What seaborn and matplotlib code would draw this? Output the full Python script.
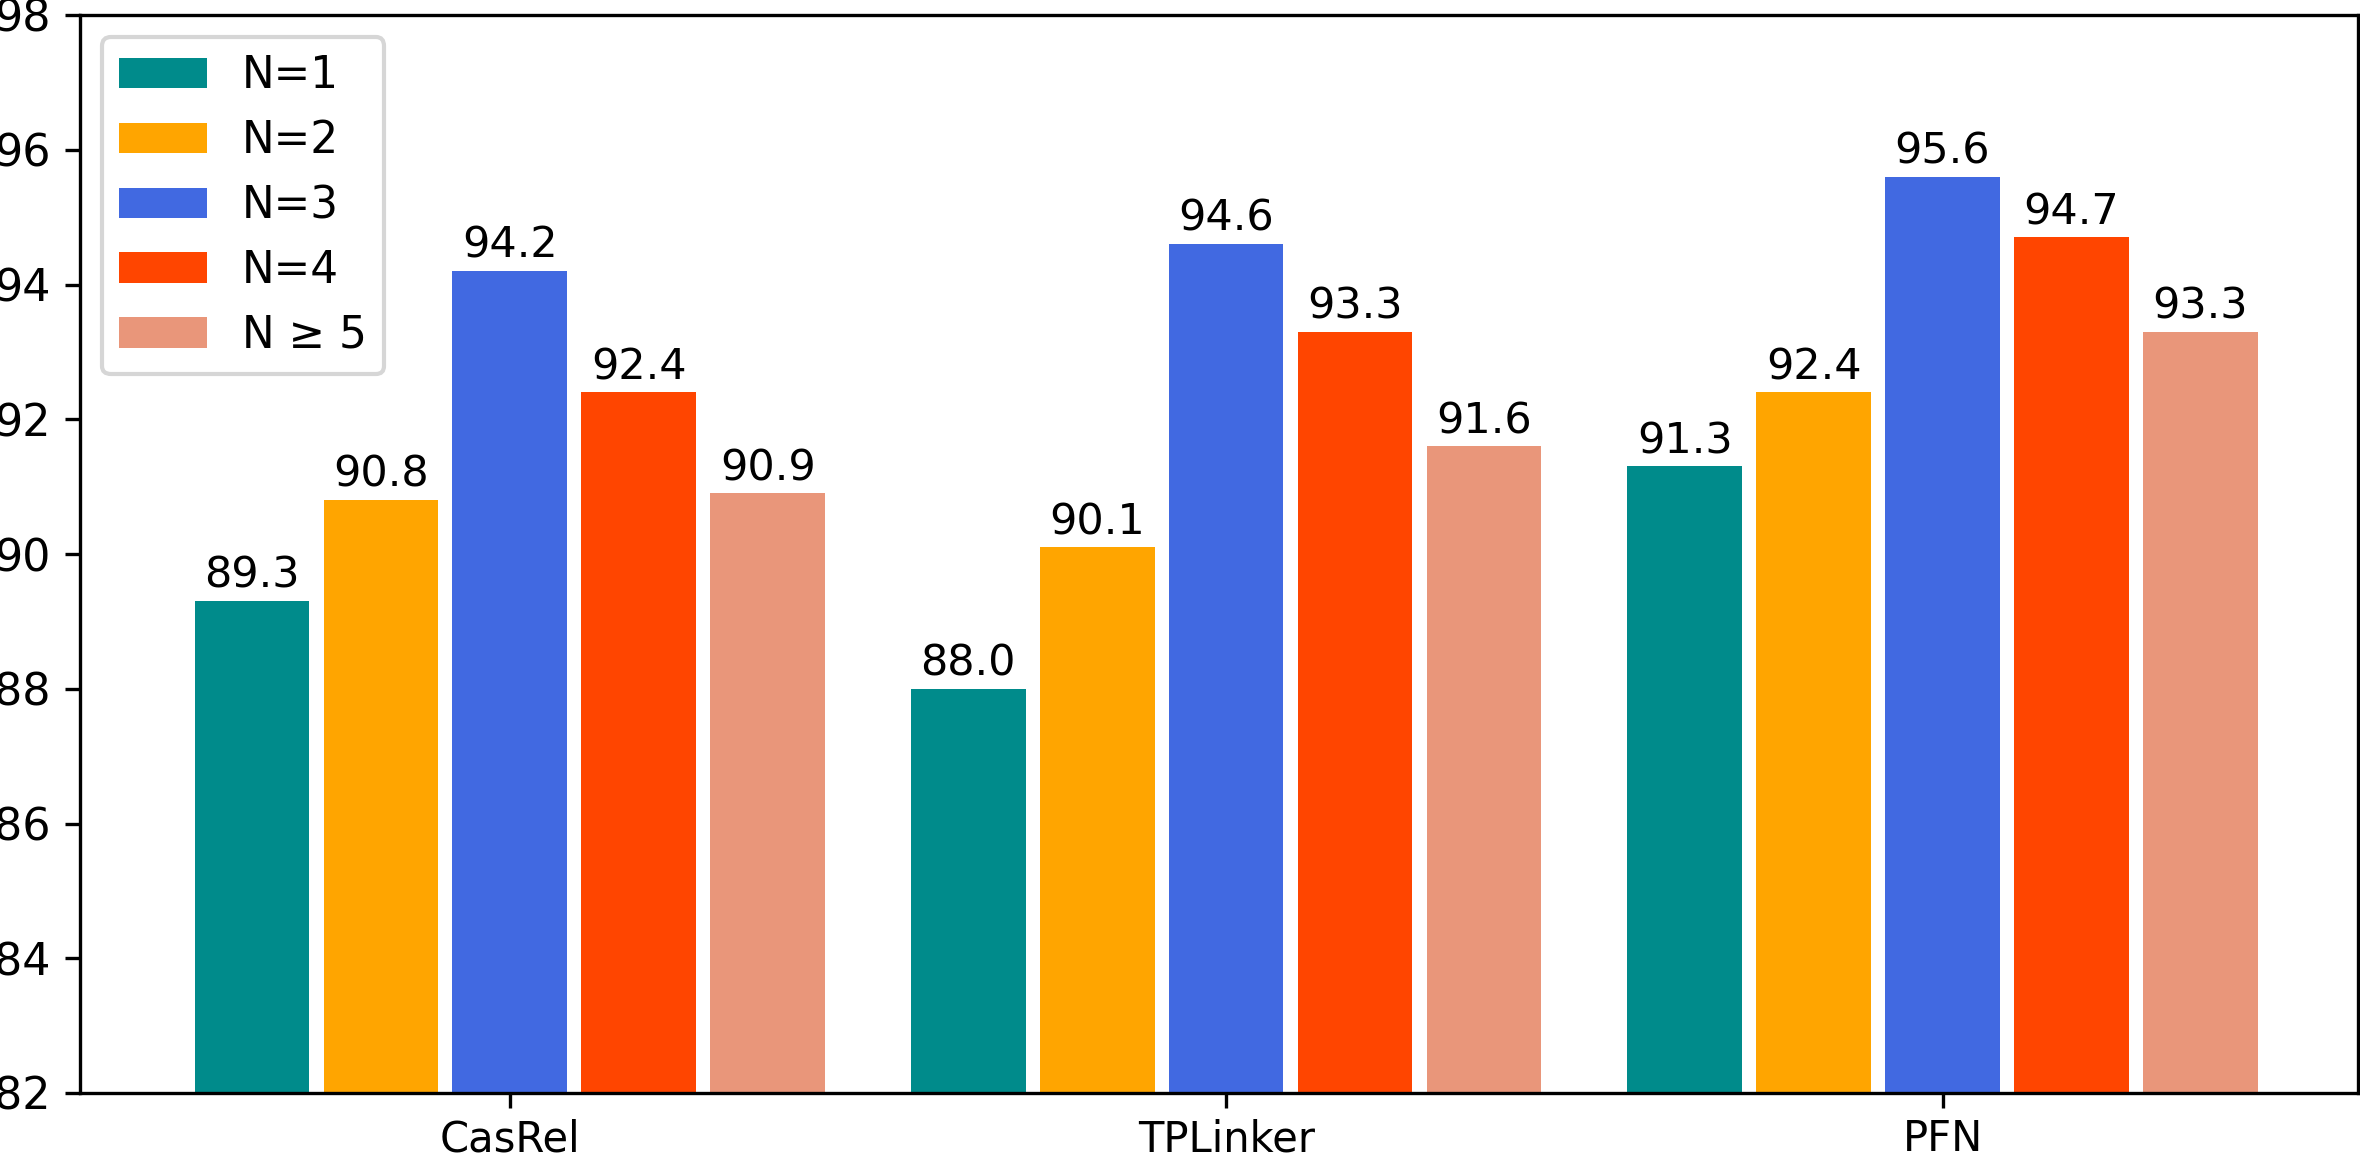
import pandas as pd
import numpy as np
import matplotlib.pyplot as plt
import seaborn as sns

models = ["CasRel", "TPLinker", "PFN"]
groups = ["N=1", "N=2", "N=3", "N=4", "N \u2265 5"]
casrel = [89.3, 90.8, 94.2, 92.4, 90.9]
tplinker = [88.0, 90.1, 94.6, 93.3, 91.6]
pfn = [91.3, 92.4, 95.6, 94.7, 93.3]
colors = ["#008B8B", "#FFA500", "#4169E1", "#FF4500", "#E9967A"]

rows = []
for model, vals in zip(models, [casrel, tplinker, pfn]):
    for grp, v in zip(groups, vals):
        rows.append({"model": model, "N": grp, "score": v})
df = pd.DataFrame(rows)

plt.rcParams["font.family"] = ["DejaVu Sans"]
plt.rcParams["font.size"] = 10.5

fig = plt.figure(figsize=(2360 / 300, 1157 / 300), dpi=300)
ax = fig.add_axes([80 / 2360, 1 - 1093 / 1157, (2358 - 80) / 2360, (1093 - 15) / 1157])

sns.barplot(data=df, x="model", y="score", hue="N", order=models, hue_order=groups,
            palette=colors, saturation=1, width=0.9, gap=0.111, ax=ax)

for cont in ax.containers:
    ax.bar_label(cont, fmt="%.1f", padding=1, fontsize=10.3)

ax.set_ylim(82, 98)
ax.set_yticks(np.arange(82, 99, 2))
ax.set_xlim(-0.6, 2.58)
ax.set_xlabel("")
ax.set_ylabel("")
ax.tick_params(axis="y", labelsize=10.7)
ax.tick_params(axis="x", labelsize=10, pad=2.5)
ax.legend(loc="upper left", fontsize=10.5, title=None)

plt.savefig("out.png", dpi=300)
plt.close()
